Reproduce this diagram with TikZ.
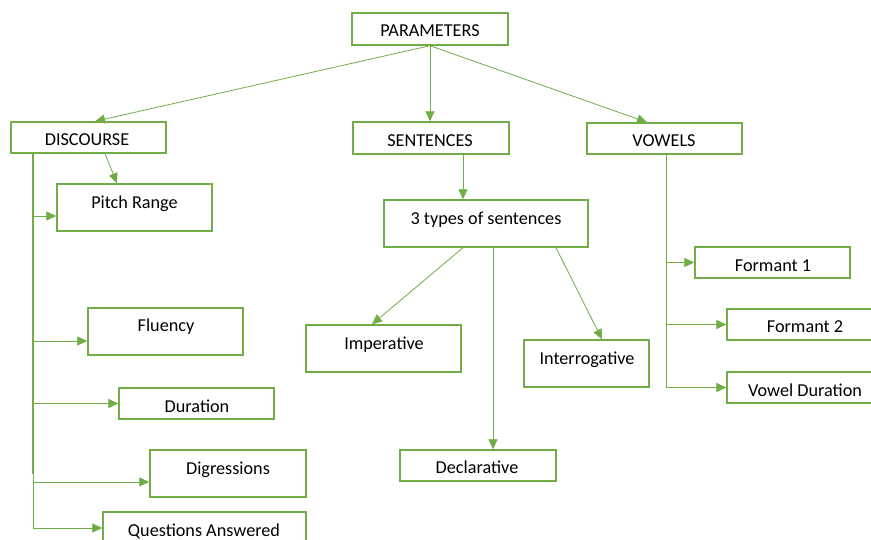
\documentclass[tikz,border=0pt]{standalone}
\usepackage{fontspec}
\setmainfont{Carlito}
\usetikzlibrary{arrows.meta}
\definecolor{grn}{HTML}{70AD47}
\begin{document}
\begin{tikzpicture}[x=1pt,y=-1pt,
  box/.style={draw=grn, line width=1.4pt, inner sep=0pt, minimum width=155pt, minimum height=#1},
  box/.default=31pt,
  lbl/.style={anchor=base, inner sep=0pt, font=\fontsize{18.2}{20}\selectfont},
  conn/.style={draw=grn, line width=0.8pt, -{Triangle[length=10pt,width=9pt]}}]
\clip (0,0) rectangle (871,540);
\fill[white] (0,0) rectangle (871,540);
% boxes
\node[box=32pt, minimum width=156pt] (params) at (430,29) {};
\node[box] (disc) at (88.5,137.5) {};
\node[box=32pt, minimum width=156pt] (sent) at (431,138) {};
\node[box] (vow) at (664.5,138.5) {};
\node[box=47pt] (pitch) at (134.5,207.5) {};
\node[box=47pt, minimum width=204pt] (types) at (486,223.5) {};
\node[box] (f1) at (772.5,262.5) {};
\node[box] (f2) at (804.5,324.5) {};
\node[box] (vd) at (804.5,387.5) {};
\node[box=47pt] (imp) at (383.5,348.5) {};
\node[box=47pt, minimum width=125pt] (inter) at (586.5,363.5) {};
\node[box, minimum width=156pt] (decl) at (478,465.5) {};
\node[box=47pt] (flu) at (165.5,331.5) {};
\node[box] (dur) at (196.5,403.5) {};
\node[box=47pt, minimum width=156pt] (dig) at (228,473.5) {};
\node[box=47pt, minimum width=203pt] (qa) at (204.5,535.5) {};
% labels
\node[lbl] (paramsT) at (430,37) {PARAMETERS};
\node[lbl] (discT) at (87,146) {DISCOURSE};
\node[lbl] (sentT) at (430,146.5) {SENTENCES};
\node[lbl] (vowT) at (664,147) {VOWELS};
\node[lbl] (pitchT) at (134.5,209) {Pitch Range};
\node[lbl] (typesT) at (486,225) {3 types of sentences};
\node[lbl] (f1T) at (773,271.5) {Formant 1};
\node[lbl] (f2T) at (805,333) {Formant 2};
\node[lbl] (vdT) at (805,396) {Vowel Duration};
\node[lbl] (impT) at (384,350) {Imperative};
\node[lbl] (interT) at (587,365) {Interrogative};
\node[lbl] (declT) at (477,473) {Declarative};
\node[lbl] (fluT) at (166,332) {Fluency};
\node[lbl] (durT) at (197,412) {Duration};
\node[lbl] (digT) at (228,474) {Digressions};
\node[lbl] (qaT) at (204,536) {Questions Answered};
% connectors from PARAMETERS
\draw[conn] (params.south) -- ([xshift=6.5pt]disc.north);
\draw[conn] (params.south) -- (params.south |- sent.north);
\draw[conn] (params.south) -- ([xshift=-17.5pt]vow.north);
% discourse
\draw[conn] ([xshift=16.5pt]disc.south) -- ([xshift=-17.5pt]pitch.north);
\draw[grn, line width=2pt] ([xshift=23pt]disc.south west) -- ([xshift=23pt]disc.south west |- dig.west);
\draw[conn] ([xshift=23pt]disc.south west) |- ([yshift=-8.5pt]pitch.west);
\draw[conn] ([xshift=23pt]disc.south west) |- ([yshift=-9.5pt]flu.west);
\draw[conn] ([xshift=23pt]disc.south west) |- (dur.west);
\draw[conn] ([xshift=23pt]disc.south west) |- ([yshift=-8.5pt]dig.west);
\draw[conn] ([xshift=23pt]disc.south west) |- ([yshift=7.5pt]qa.west);
% sentences
\draw[conn] ([xshift=32pt]sent.south) -- ([xshift=32pt]sent.south |- types.north);
\draw[conn] ([xshift=-23pt]types.south) -- ([xshift=-11.5pt]imp.north);
\draw[conn] ([xshift=7pt]types.south) -- ([xshift=7pt]types.south |- decl.north);
\draw[conn] ([xshift=70pt]types.south) -- ([xshift=15.5pt]inter.north);
% vowels
\draw[conn] ([xshift=1.5pt]vow.south) |- (f1.west);
\draw[conn] ([xshift=1.5pt]vow.south) |- (f2.west);
\draw[conn] ([xshift=1.5pt]vow.south) |- (vd.west);
\end{tikzpicture}
\end{document}
